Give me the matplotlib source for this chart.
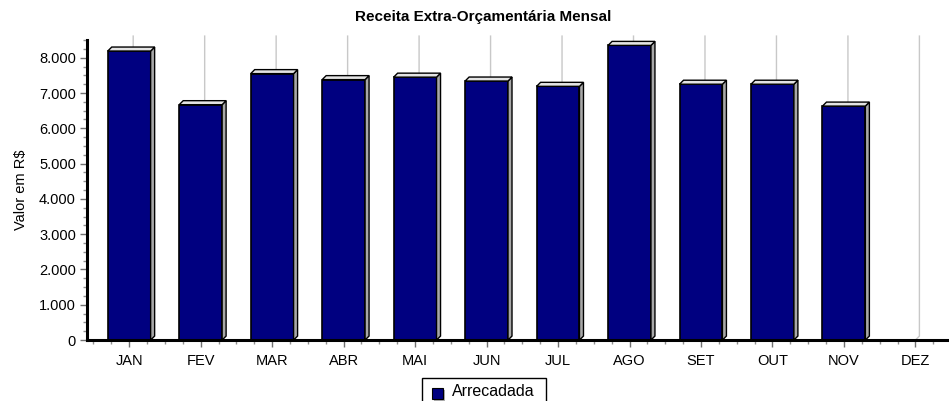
import matplotlib
matplotlib.use("Agg")
import matplotlib.pyplot as plt
from matplotlib.patches import Polygon, Rectangle
from matplotlib.ticker import MultipleLocator, FuncFormatter

# ============================================================
# DATA
# ============================================================

months = ["JAN", "FEV", "MAR", "ABR", "MAI", "JUN",
          "JUL", "AGO", "SET", "OUT", "NOV", "DEZ"]
arrecadada = [8190, 6670, 7550, 7380, 7450, 7340,
              7190, 8350, 7250, 7250, 6630, 0]

title = "Receita Extra-Orçamentária Mensal"
ylabel = "Valor em R$"
legend_label = "Arrecadada"

NAVY = "#000080"
SIDE = "#a8a8a8"
TOP = "#e4e4e4"
GRID = "#c8c8c8"

plt.rcParams["font.family"] = ["Liberation Sans", "DejaVu Sans"]

# ============================================================
# FIGURE
# ============================================================

W, H = 949, 401
fig = plt.figure(figsize=(W / 100, H / 100), dpi=100)
ax = fig.add_axes([0.0917, 0.152, 0.9083, 0.748])

x = list(range(len(months)))
width = 0.6
ymax = 8500

ax.set_xlim(-0.59, 11.47)
ax.set_ylim(0, ymax)

# depth of the fake 3D effect, in data units (4 px)
fig.canvas.draw()
px_x = ax.transData.transform((1, 0))[0] - ax.transData.transform((0, 0))[0]
px_y = ax.transData.transform((0, 1000))[1] - ax.transData.transform((0, 0))[1]
dx = 4 / px_x
dy = 4 / px_y * 1000

# gridlines on the "back wall" (shifted by the depth)
for xi in x:
    ax.plot([xi, xi + dx, xi + dx], [0, dy, ymax + dy], color=GRID,
            linewidth=1, zorder=1, clip_on=False)

for xi, v in zip(x, arrecadada):
    if v <= 0:
        continue
    x0 = xi - width / 2
    x1 = xi + width / 2
    ax.bar(xi, v, width=width, color=NAVY, edgecolor="black",
           linewidth=1.2, zorder=3)
    side = Polygon([(x1, 0), (x1, v), (x1 + dx, v + dy), (x1 + dx, dy)],
                   closed=True, facecolor=SIDE, edgecolor="black",
                   linewidth=1.0, zorder=3)
    top = Polygon([(x0, v), (x1, v), (x1 + dx, v + dy), (x0 + dx, v + dy)],
                  closed=True, facecolor=TOP, edgecolor="black",
                  linewidth=1.0, zorder=3)
    ax.add_patch(side)
    ax.add_patch(top)

# ============================================================
# AXES STYLE
# ============================================================

for s in ["top", "right"]:
    ax.spines[s].set_visible(False)
ax.spines["left"].set_linewidth(2.2)
ax.spines["bottom"].set_linewidth(2.2)
ax.spines["left"].set_zorder(5)
ax.spines["bottom"].set_zorder(5)

ax.set_xticks(x)
ax.set_xticklabels(months)
ax.xaxis.set_minor_locator(MultipleLocator(0.25))
ax.yaxis.set_major_locator(MultipleLocator(1000))
ax.yaxis.set_minor_locator(MultipleLocator(250))
ax.yaxis.set_major_formatter(
    FuncFormatter(lambda v, p: f"{int(v):,}".replace(",", "."))
)

ax.tick_params(axis="both", which="major", labelsize=10.5, length=5,
               width=1, color="#707070", pad=3)
ax.tick_params(axis="both", which="minor", length=3, width=1,
               color="#909090")
ax.tick_params(axis="x", which="major", pad=5)

ax.set_ylabel(ylabel, fontsize=10.5, labelpad=8)
fig.text(0.509, 0.957, title, ha="center", va="center",
         fontsize=11, fontweight="bold")

# ============================================================
# LEGEND (drawn by hand, box runs off the bottom edge)
# ============================================================

fig.patches.append(Rectangle((422 / W, -4 / H), 124 / W, 27 / H,
                             transform=fig.transFigure, facecolor="white",
                             edgecolor="black", linewidth=1))
fig.patches.append(Rectangle((434 / W, (H - 401) / H), 11 / W, 11 / H,
                             transform=fig.transFigure, facecolor="#b0b0b0",
                             edgecolor="none"))
fig.patches.append(Rectangle((432 / W, (H - 399) / H), 11 / W, 11 / H,
                             transform=fig.transFigure, facecolor=NAVY,
                             edgecolor="black", linewidth=0.8))
fig.text(452 / W, (H - 391) / H, legend_label, ha="left", va="center",
         fontsize=11.5)

plt.savefig("out.png", dpi=100)
plt.close()
